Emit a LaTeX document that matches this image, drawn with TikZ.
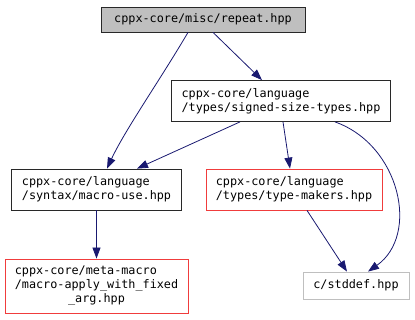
\documentclass[tikz,border=0pt]{standalone}
\usepackage{fontspec}
\setmonofont{DejaVu Sans Mono}
\usetikzlibrary{arrows.meta}
\definecolor{edgec}{RGB}{25,25,112}
\definecolor{greyfill}{RGB}{191,191,191}
\definecolor{redline}{RGB}{240,60,60}
\definecolor{greyline}{RGB}{191,191,191}
\definecolor{darkline}{RGB}{40,40,40}
\begin{document}
\begin{tikzpicture}[x=1pt,y=-1pt,
  filebox/.style={draw=darkline, line width=0.8pt, inner sep=0pt, align=left,
    font=\ttfamily\fontsize{11.8}{14}\selectfont},
  redbox/.style={filebox, draw=redline},
  greybox/.style={filebox, draw=greyline},
  dep/.style={draw=edgec, line width=0.8pt, -{Triangle[length=11pt,width=8pt]}, fill=none}
]
\useasboundingbox (0,0) rectangle (415,320);
\node[filebox, fill=greyfill, minimum width=204pt, minimum height=25pt] (repeat) at (203,19.5) {cppx-core/misc/repeat.hpp};
\node[filebox, minimum width=219pt, minimum height=41pt] (signed) at (281,101) {cppx-core/language\\/types/signed-size-types.hpp};
\node[filebox, minimum width=170pt, minimum height=41pt] (use) at (96.5,189.5) {cppx-core/language\\/syntax/macro-use.hpp};
\node[redbox, minimum width=176pt, minimum height=41pt] (maker) at (294,189.5) {cppx-core/language\\/types/type-makers.hpp};
\node[redbox, minimum width=183pt, minimum height=54pt] (meta) at (96.5,286) {\renewcommand\arraystretch{1}\begin{tabular}{@{}l@{}}cppx-core/meta-macro\\/macro-apply\_with\_fixed\\\multicolumn{1}{@{}c@{}}{\_arg.hpp}\end{tabular}};
\node[greybox, minimum width=106pt, minimum height=27pt] (std) at (356,285.5) {c/stddef.hpp};

\draw[dep] ([xshift=-15pt]repeat.south) .. controls (160,80) and (125,130) .. ([xshift=10.5pt]use.north);
\draw[dep] ([xshift=10pt]repeat.south) -- ([xshift=-19pt]signed.north);
\draw[dep] ([xshift=-41pt]signed.south) -- ([xshift=40.5pt]use.north);
\draw[dep] ([xshift=2pt]signed.south) -- ([xshift=-4pt]maker.north);
\draw[dep] ([xshift=54pt]signed.south) .. controls (400,145) and (420,235) .. ([xshift=12pt]std.north);
\draw[dep] ([xshift=13pt]maker.south) -- ([xshift=-9pt]std.north);
\draw[dep] (use.south) -- (meta.north);
\end{tikzpicture}
\end{document}
